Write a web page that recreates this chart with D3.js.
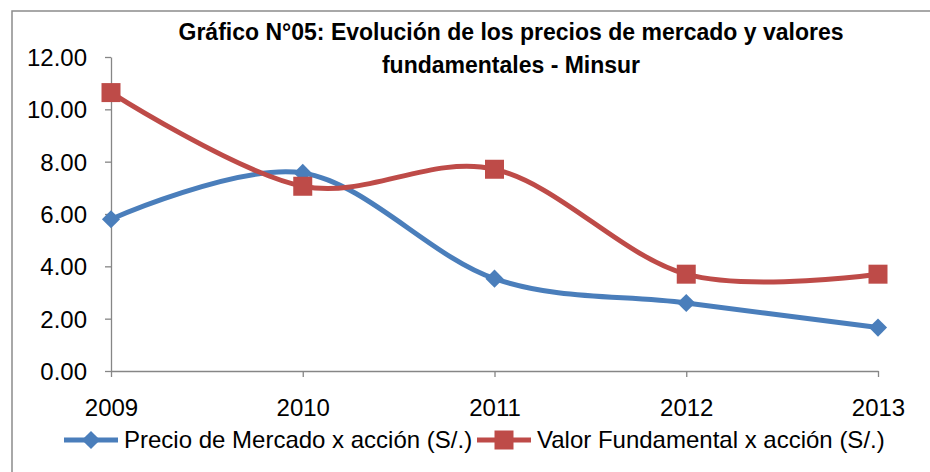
<!DOCTYPE html>
<html lang="es">
<head>
  <meta charset="UTF-8">
  <title>Minsur - precios de mercado y valores fundamentales</title>
  <script src="https://d3js.org/d3.v7.min.js"></script>
  <style>
    body {
      margin: 0;
      padding: 0;
      background: #fff;
      font-family: 'Liberation Sans', Arial, sans-serif;
    }
    svg { display: block; }
    .axis path, .axis line { stroke: #868686; stroke-width: 1.3; }
    .axis text { fill: #000; font-size: 24px; font-family: 'Liberation Sans', Arial, sans-serif; }
  </style>
</head>
<body>
  <svg id="chart"></svg>

  <script>
    // Data
    const years = [2009, 2010, 2011, 2012, 2013];
    const precioMercado = [5.80, 7.57, 3.53, 2.60, 1.66];
    const valorFundamental = [10.64, 7.06, 7.71, 3.70, 3.70];
    const yTicks = [0, 2, 4, 6, 8, 10, 12];
    const titleLines = ["Gráfico N°05: Evolución de los precios de mercado y valores",
                        "fundamentales - Minsur"];
    const seriesNames = ["Precio de Mercado x acción (S/.)", "Valor Fundamental x acción (S/.)"];

    const width = 930, height = 472;
    const blue = "#4a7ebb", red = "#be4b48";

    const svg = d3.select("#chart").attr("width", width).attr("height", height);

    // outer chart border (runs off the right and bottom edges)
    svg.append("rect")
      .attr("x", 12).attr("y", 11)
      .attr("width", width).attr("height", height)
      .attr("fill", "#fff")
      .attr("stroke", "#8c8c8c").attr("stroke-width", 1.5);

    const x = d3.scalePoint().domain(years).range([111, 878]);
    const y = d3.scaleLinear().domain([0, 12]).range([371, 57]);

    // axes
    svg.append("g")
      .attr("class", "axis")
      .attr("transform", "translate(111,0)")
      .call(d3.axisLeft(y).tickValues(yTicks).tickFormat(d3.format(".2f")).tickSize(6).tickSizeOuter(0).tickPadding(18))
      .selectAll("text").attr("dy", "0.36em");

    svg.append("g")
      .attr("class", "axis")
      .attr("transform", "translate(0,371)")
      .call(d3.axisBottom(x).tickSize(6).tickSizeOuter(0).tickPadding(22));

    // smoothed lines like Excel
    const line = d3.line()
      .x((d, i) => x(years[i]))
      .y(d => y(d))
      .curve(d3.curveCardinal.tension(0));

    // diamond = square turned 45 degrees, as Excel draws it
    const series = [
      { name: seriesNames[0], values: precioMercado, color: blue, size: 165, rot: 45 },
      { name: seriesNames[1], values: valorFundamental, color: red, size: 361, rot: 0 }
    ];

    series.forEach(s => {
      svg.append("path")
        .datum(s.values)
        .attr("fill", "none")
        .attr("stroke", s.color)
        .attr("stroke-width", 5)
        .attr("stroke-linejoin", "round")
        .attr("d", line);
    });

    series.forEach(s => {
      svg.append("g").selectAll("path")
        .data(s.values)
        .join("path")
        .attr("transform", (d, i) => `translate(${x(years[i])},${y(d)}) rotate(${s.rot})`)
        .attr("d", d3.symbol(d3.symbolSquare, s.size))
        .attr("fill", s.color);
    });

    // title
    svg.append("text")
      .attr("text-anchor", "middle")
      .attr("font-weight", "bold")
      .attr("font-size", 23)
      .selectAll("tspan")
      .data(titleLines)
      .join("tspan")
      .attr("x", 511)
      .attr("y", (d, i) => 40 + i * 33)
      .text(d => d);

    // legend
    const legendX = [64, 477];
    const legend = svg.append("g");
    series.forEach((s, i) => {
      const lx = legendX[i];
      legend.append("line")
        .attr("x1", lx).attr("x2", lx + 54)
        .attr("y1", 440).attr("y2", 440)
        .attr("stroke", s.color).attr("stroke-width", 5);
      legend.append("path")
        .attr("transform", `translate(${lx + 27},440) rotate(${s.rot})`)
        .attr("d", d3.symbol(d3.symbolSquare, s.size))
        .attr("fill", s.color);
      legend.append("text")
        .attr("x", lx + 60).attr("y", 448)
        .attr("font-size", 24)
        .text(s.name);
    });
  </script>
</body>
</html>
